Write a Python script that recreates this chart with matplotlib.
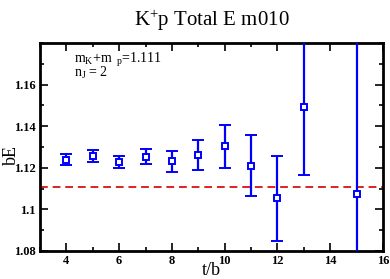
import matplotlib
matplotlib.use("Agg")
import matplotlib.pyplot as plt
from matplotlib.ticker import MultipleLocator

t = [4, 5, 6, 7, 8, 9, 10, 11, 12, 13, 15]
bE = [1.1239, 1.1257, 1.1228, 1.1253, 1.1231, 1.1263, 1.1303, 1.1210, 1.1053, 1.1490, 1.1076]
err = [0.0026, 0.0027, 0.0030, 0.0037, 0.0050, 0.0072, 0.0102, 0.0148, 0.0205, 0.0324, 0.1000]
threshold = 1.111

plt.rcParams['font.family'] = ['Liberation Serif', 'DejaVu Serif']
plt.rcParams['mathtext.fontset'] = 'custom'
plt.rcParams['mathtext.rm'] = 'Liberation Serif'
plt.rcParams['mathtext.it'] = 'Liberation Serif'

fig = plt.figure(figsize=(3.9, 2.79), dpi=100)
ax = fig.add_axes([0.1026, 0.1004, 0.8794, 0.7456])

ax.axhline(threshold, color='#dd2222', ls=(0, (4, 2.5)), lw=1.4, zorder=1)
ax.errorbar(t, bE, yerr=err, fmt='s', color='#0000ff', mfc='white', mec='#0000ff',
            ms=5, mew=1.4, elinewidth=1.6, capsize=4, capthick=1.6, zorder=3)

ax.set_xlim(3, 16)
ax.set_ylim(1.08, 1.18)
ax.xaxis.set_major_locator(MultipleLocator(2))
ax.xaxis.set_minor_locator(MultipleLocator(1))
ax.yaxis.set_minor_locator(MultipleLocator(0.01))
ax.set_yticks([1.08, 1.1, 1.12, 1.14, 1.16])
ax.set_yticklabels(['1.08', '1.1', '1.12', '1.14', '1.16'])
ax.tick_params(which='both', direction='in', top=True, right=True, width=1.2)
ax.tick_params(which='major', length=6, labelsize=9, pad=3)
ax.tick_params(which='minor', length=3)
for lab in ax.get_xticklabels() + ax.get_yticklabels():
    lab.set_fontweight('bold')
for s in ax.spines.values():
    s.set_linewidth(2)

ax.set_xlabel('t/b', fontsize=13, va='center')
ax.xaxis.set_label_coords(0.5, -0.095)
ax.set_ylabel('bE', fontsize=13, va='center')
ax.yaxis.set_label_coords(-0.082, 0.46)
ax.set_title('K$^{+}$p Total E m010', fontsize=15, pad=12)

ax.text(0.10, 0.918, 'm$_{K}$+m$_{\\ \\ p}$=1.111', transform=ax.transAxes, fontsize=10, va='center')
ax.text(0.10, 0.856, 'n$_{J}$ = 2', transform=ax.transAxes, fontsize=10, va='center')

fig.savefig('out.png', dpi=100)
